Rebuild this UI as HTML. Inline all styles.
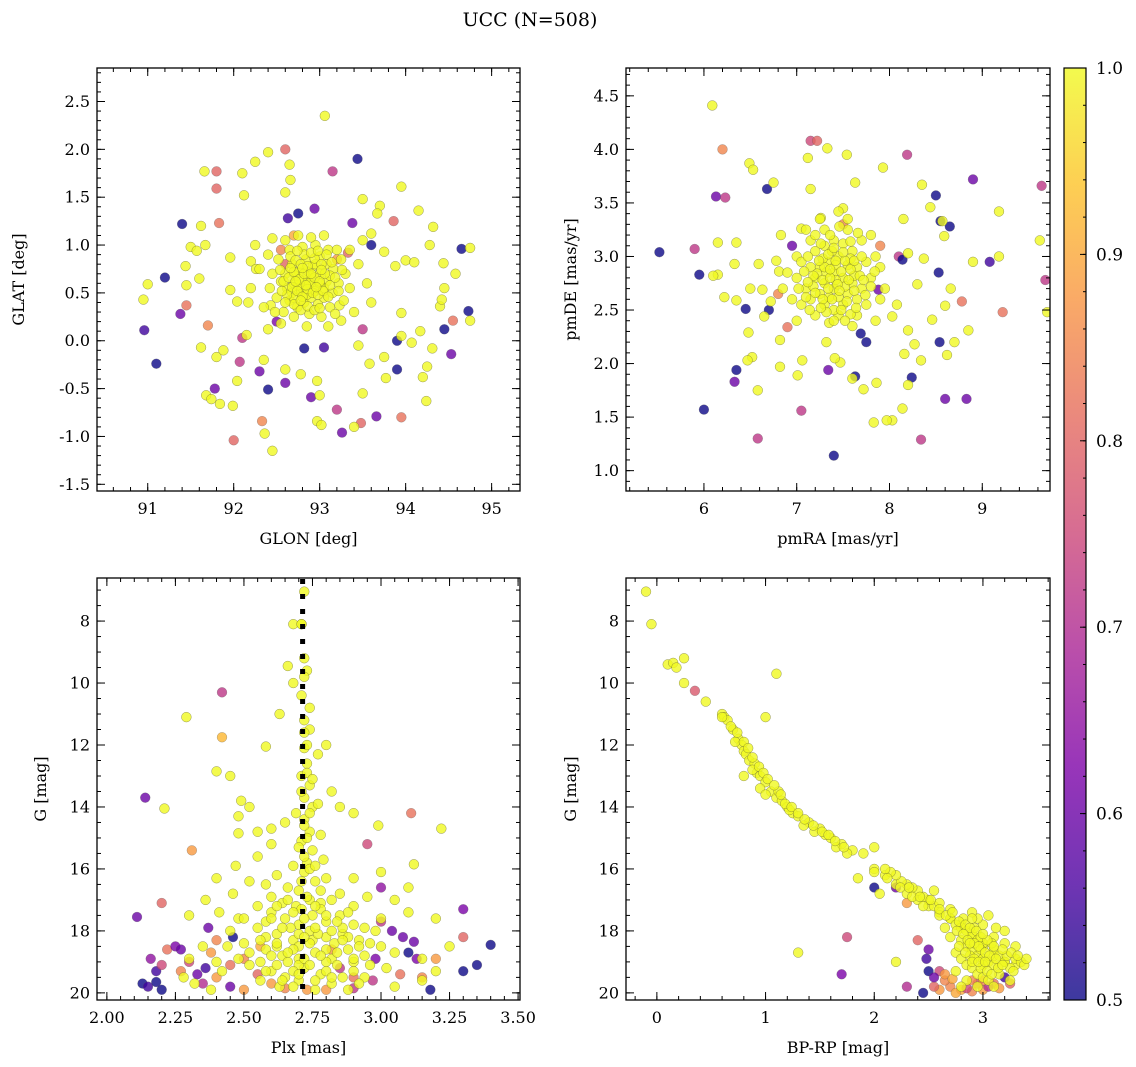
<!DOCTYPE html>
<html><head><meta charset="utf-8"><style>
html,body{margin:0;padding:0;background:#fff;}
svg{display:block;font-family:"DejaVu Serif","Liberation Serif",serif;}
</style></head><body>
<svg id="fig" width="1136" height="1067" viewBox="0 0 1136 1067" xmlns="http://www.w3.org/2000/svg">
<text x="530" y="26" font-size="19" text-anchor="middle">UCC (N=508)</text>
</svg>
<script>
// ---------- Panel 1: GLON vs GLAT ----------
const p1Colored = [[90.96,0.11,0.55],[91.1,-0.24,0.5],[91.2,0.66,0.5],[91.4,1.22,0.5],[91.38,0.28,0.6],[91.45,0.37,0.82],[91.7,0.16,0.85],[91.8,1.77,0.8],[91.8,1.59,0.8],[91.78,-0.5,0.6],[91.83,1.23,0.82],[92.0,-1.04,0.8],[92.1,0.03,0.72],[92.07,-0.22,0.72],[92.3,-0.32,0.6],[92.4,-0.51,0.5],[92.33,-0.84,0.85],[92.6,2.0,0.8],[92.63,1.28,0.55],[92.75,1.33,0.5],[92.94,1.38,0.6],[92.6,-0.44,0.6],[92.82,-0.08,0.5],[92.9,-0.59,0.6],[93.15,1.77,0.72],[93.44,1.9,0.5],[93.38,1.23,0.6],[93.33,0.92,0.8],[93.2,-0.72,0.72],[93.26,-0.96,0.6],[93.48,-0.86,0.8],[93.66,-0.79,0.6],[93.6,1.0,0.5],[93.9,0.0,0.5],[93.9,-0.3,0.5],[93.86,1.25,0.8],[93.95,-0.8,0.82],[94.45,0.12,0.5],[94.53,-0.14,0.6],[94.55,0.21,0.82],[94.65,0.96,0.5],[94.73,0.31,0.5],[93.05,-0.07,0.55],[93.5,0.12,0.72],[92.5,0.2,0.62],[92.55,0.95,0.85],[92.7,1.1,0.9],[93.2,0.85,0.88],[92.6,0.8,0.8]];
const p1Yellow = [[90.95,0.43],[91.0,0.59],[91.44,0.78],[91.45,0.58],[91.5,0.98],[91.57,0.94],[91.62,1.2],[91.6,0.65],[91.62,-0.07],[91.66,1.77],[91.68,-0.57],[91.74,-0.61],[91.84,-0.66],[91.99,-0.68],[92.04,-0.42],[91.96,0.53],[92.04,0.41],[91.96,0.87],[92.17,0.4],[92.12,1.52],[92.25,1.87],[92.1,1.75],[92.4,1.97],[92.45,1.07],[92.35,-0.2],[92.36,-0.97],[92.45,-1.15],[92.65,1.84],[92.66,1.68],[92.6,1.55],[93.06,2.35],[92.6,-0.3],[92.78,-0.35],[92.97,-0.42],[93.0,-0.57],[92.97,-0.84],[93.02,-0.88],[93.4,-0.9],[93.5,-0.55],[93.77,-0.39],[93.58,-0.24],[93.75,-0.17],[93.95,0.29],[94.17,0.1],[94.25,-0.27],[94.2,-0.38],[94.24,-0.63],[93.95,0.05],[94.31,-0.08],[94.07,-0.02],[94.0,0.84],[94.1,0.82],[94.28,1.0],[94.32,1.19],[94.15,1.36],[93.95,1.61],[93.7,1.41],[93.67,1.33],[93.88,0.78],[93.75,0.93],[94.44,0.81],[94.58,0.7],[94.45,0.55],[94.4,0.36],[94.75,0.21],[94.75,0.97],[94.42,0.43],[93.5,1.48],[93.6,1.12],[93.45,-0.05],[93.25,0.21],[93.23,0.37],[92.4,0.12],[92.43,0.37],[92.15,0.06],[91.88,-0.1],[91.8,-0.17],[92.2,0.83],[92.26,0.75],[91.67,1.0],
[92.62,0.55],[92.7,0.6],[92.78,0.5],[92.85,0.65],[92.92,0.58],[93.0,0.7],[93.08,0.62],[93.15,0.5],[92.65,0.42],[92.74,0.35],[92.82,0.4],[92.9,0.45],[92.98,0.38],[93.05,0.45],[93.12,0.35],[92.6,0.7],[92.68,0.8],[92.76,0.72],[92.84,0.85],[92.92,0.78],[93.0,0.88],[93.08,0.8],[93.16,0.75],[93.22,0.6],[92.55,0.62],[92.5,0.45],[92.58,0.3],[92.7,0.25],[92.88,0.28],[93.02,0.25],[93.18,0.28],[93.28,0.42],[93.3,0.7],[93.25,0.85],[93.1,0.95],[92.95,1.0],[92.8,0.98],[92.65,0.95],[92.52,0.85],[92.45,0.7],[92.48,0.3],[92.8,0.55],[92.95,0.52],[92.72,0.68],[93.05,0.55],[92.87,0.72],[93.12,0.68],[92.68,0.5],[93.2,0.95],[92.9,1.08],[92.75,1.1],[93.05,1.1],[92.6,1.05],[93.35,0.55],[93.35,0.95],[92.42,0.55],[92.4,0.9],[92.55,0.18],[92.85,0.15],[93.1,0.15],[93.4,0.3],[93.45,0.8],[92.35,0.35],[92.3,0.75],[93.5,1.05],[92.2,0.55],[92.25,1.0],[93.55,0.6],[93.6,0.4],[92.8,0.62],[92.9,0.68],[92.75,0.58],[92.85,0.48],[93.0,0.6],[92.7,0.45],[92.95,0.8]];
const p1CoreExtra = [[92.58,0.62],[92.64,0.66],[92.7,0.72],[92.76,0.64],[92.82,0.7],[92.88,0.6],[92.94,0.66],[93.0,0.62],[93.06,0.7],[93.12,0.58],[92.62,0.48],[92.68,0.56],[92.74,0.52],[92.8,0.46],[92.86,0.54],[92.92,0.5],[92.98,0.48],[93.04,0.52],[93.1,0.46],[92.66,0.88],[92.72,0.84],[92.78,0.8],[92.86,0.78],[92.94,0.86],[93.02,0.8],[93.08,0.9],[92.7,0.38],[92.78,0.32],[92.86,0.36],[92.94,0.32],[93.0,0.34],[92.6,0.4],[92.54,0.74],[92.56,0.52],[93.14,0.82],[93.18,0.66],[93.22,0.52],[93.26,0.74],[92.82,0.9],[92.9,0.92],[92.98,0.94],[92.74,0.94],[92.66,0.76],[92.84,0.58],[92.9,0.7],[92.8,0.76],[92.72,0.62],[93.02,0.74],[92.96,0.56],[92.78,0.42]];
const p1XTicks = [91,92,93,94,95];
const p1YTicks = [-1.5,-1.0,-0.5,0.0,0.5,1.0,1.5,2.0,2.5];

// ---------- Panel 2: pmRA vs pmDE ----------
const p2Colored = [[5.52,3.04,0.5],[5.95,2.83,0.5],[6.0,1.57,0.5],[5.9,3.07,0.72],[6.13,3.56,0.6],[6.23,3.55,0.72],[6.2,4.0,0.85],[6.33,1.83,0.6],[6.35,1.94,0.5],[6.45,2.51,0.5],[6.58,1.3,0.72],[6.68,3.63,0.5],[6.7,2.5,0.5],[6.9,2.34,0.82],[7.05,1.56,0.72],[7.15,4.08,0.75],[7.22,4.08,0.8],[7.34,1.94,0.6],[7.4,1.14,0.5],[7.63,1.88,0.5],[7.69,2.28,0.5],[7.75,2.2,0.5],[7.88,2.69,0.6],[8.1,3.0,0.72],[8.14,2.97,0.5],[8.19,3.95,0.72],[8.24,1.87,0.5],[8.34,1.29,0.72],[8.5,3.57,0.5],[8.53,2.85,0.5],[8.55,3.33,0.5],[8.65,3.28,0.5],[8.54,2.2,0.5],[8.6,1.67,0.6],[8.83,1.67,0.6],[8.78,2.58,0.82],[8.9,3.72,0.6],[9.08,2.95,0.55],[9.68,2.78,0.72],[9.64,3.66,0.72],[9.22,2.48,0.82],[6.95,3.1,0.6],[7.5,3.3,0.85],[6.8,2.65,0.85],[7.9,3.1,0.85]];
const p2Yellow = [[6.09,4.41],[6.49,3.87],[6.53,3.81],[6.75,3.69],[7.12,3.92],[7.33,4.01],[7.54,3.95],[7.63,3.69],[7.93,3.83],[8.35,3.67],[8.44,3.46],[8.57,3.33],[8.59,3.19],[9.18,3.42],[9.62,3.15],[9.7,2.48],[9.18,3.0],[8.9,2.95],[8.85,2.31],[8.66,2.7],[8.6,2.54],[8.46,2.41],[8.7,2.2],[8.62,2.08],[8.27,2.18],[8.34,2.03],[8.16,2.09],[8.2,1.8],[8.14,1.58],[8.03,1.47],[7.97,1.47],[7.83,1.45],[7.86,1.82],[7.47,2.01],[7.32,2.2],[7.41,2.05],[7.06,2.03],[7.01,1.89],[6.82,2.22],[6.82,1.97],[6.52,2.06],[6.47,2.03],[6.58,1.75],[6.48,2.29],[6.35,2.59],[6.22,2.62],[6.15,3.13],[6.15,2.83],[6.35,3.13],[6.33,2.93],[6.59,2.93],[6.63,2.69],[6.72,2.58],[6.78,2.96],[6.81,2.86],[6.5,2.7],[6.1,2.82],[6.65,2.44],[7.05,3.26],[6.83,3.2],[7.15,3.63],[7.26,3.36],[7.5,3.45],[8.15,3.35],[8.2,3.03],[8.37,2.98],[8.3,2.74],[8.03,2.44],[8.2,2.31],[8.08,2.55],[7.72,1.76],[7.6,1.86],
[7.2,2.8],[7.3,2.75],[7.4,2.85],[7.5,2.8],[7.6,2.75],[7.35,2.95],[7.45,3.0],[7.25,2.65],[7.55,2.65],[7.15,2.9],[7.65,2.9],[7.3,2.55],[7.5,2.55],[7.4,2.7],[7.2,3.05],[7.6,3.05],[7.1,2.7],[7.7,2.7],[7.0,2.8],[7.8,2.8],[7.05,2.55],[7.75,2.55],[7.4,3.15],[7.3,3.25],[7.55,3.25],[7.15,3.15],[7.7,3.15],[7.0,3.0],[7.85,3.0],[6.95,2.6],[7.9,2.6],[7.2,2.45],[7.45,2.45],[7.65,2.45],[7.35,2.38],[7.55,3.35],[7.25,3.35],[7.45,3.42],[7.9,2.9],[6.9,2.85],[7.8,3.2],[7.1,3.25],[7.6,2.35],[7.0,2.4],[7.85,2.4],[7.35,2.62],[7.55,2.92],[7.25,2.9],[7.45,2.62],[7.65,2.6],[7.15,2.6],[7.5,3.12],[7.3,3.1],[7.75,2.95],[7.05,2.95],[7.95,2.7],[6.85,2.7],[7.4,2.5],[7.62,2.82],[7.18,2.72],[7.42,2.78],[7.32,2.85],[7.52,2.72],[7.38,3.05],[7.28,2.98],[7.58,2.98]];
const p2CoreExtra = [[7.22,2.84],[7.28,2.78],[7.34,2.7],[7.42,2.92],[7.48,2.86],[7.56,2.78],[7.62,2.68],[7.36,2.8],[7.44,2.74],[7.52,2.96],[7.3,2.9],[7.24,2.96],[7.18,2.82],[7.12,2.76],[7.68,2.82],[7.58,2.88],[7.46,2.68],[7.38,2.6],[7.28,2.6],[7.2,2.66],[7.54,2.58],[7.62,2.96],[7.7,3.0],[7.34,3.02],[7.4,3.08],[7.26,3.12],[7.5,3.04],[7.58,3.14],[7.66,3.22],[7.2,3.2],[7.36,3.2],[7.46,3.28],[7.12,3.0],[7.08,2.86],[7.1,2.62],[7.02,2.7],[7.74,2.64],[7.8,2.72],[7.84,2.86],[7.72,2.78],[7.32,2.48],[7.48,2.5],[7.58,2.46],[7.26,2.52],[7.14,2.5],[7.4,2.4],[7.52,2.4],[7.64,2.52],[7.42,2.96],[7.36,2.88]];
const p2XTicks = [6,7,8,9];
const p2YTicks = [1.0,1.5,2.0,2.5,3.0,3.5,4.0,4.5];

// ---------- Panel 3: Plx vs G ----------
const p3Colored = [[2.14,13.7,0.6],[2.11,17.55,0.6],[2.2,17.1,0.8],[2.31,15.4,0.88],[2.42,10.3,0.72],[2.42,11.75,0.92],[2.13,19.7,0.5],[2.15,19.8,0.55],[2.18,19.65,0.5],[2.2,19.9,0.5],[2.18,19.3,0.55],[2.16,18.9,0.65],[2.2,19.1,0.75],[2.22,18.6,0.82],[2.25,18.5,0.62],[2.27,18.6,0.6],[2.3,19.0,0.75],[2.33,19.4,0.6],[2.36,19.2,0.55],[2.37,17.9,0.6],[2.38,18.7,0.88],[2.4,19.5,0.88],[2.45,19.1,0.82],[2.46,18.2,0.5],[2.45,19.8,0.6],[2.5,19.9,0.88],[2.55,19.4,0.8],[2.6,19.7,0.88],[2.95,15.2,0.75],[3.0,16.6,0.65],[3.0,17.7,0.72],[2.98,18.9,0.62],[2.97,19.6,0.72],[3.04,18.0,0.6],[3.11,14.2,0.82],[3.08,18.2,0.6],[3.1,18.7,0.5],[3.12,18.35,0.6],[3.13,18.9,0.62],[3.07,19.4,0.82],[3.18,19.9,0.5],[3.2,18.9,0.88],[3.3,17.3,0.62],[3.3,18.2,0.8],[3.3,19.3,0.5],[3.35,19.1,0.5],[3.4,18.45,0.5],[2.8,19.9,0.88],[2.73,19.9,0.88],[2.9,19.5,0.82],[2.85,19.2,0.72],[2.4,18.3,0.85],[2.35,19.7,0.7],[2.27,19.3,0.85],[2.5,18.9,0.85],[2.65,19.85,0.85],[2.9,19.85,0.72],[3.15,19.5,0.85],[2.82,18.6,0.88],[2.56,18.5,0.9]];
const p3Yellow = [[2.72,7.05],[2.71,8.1],[2.29,11.1],[2.66,9.45],[2.68,8.1],[2.63,11.0],[2.68,10.0],[2.58,12.05],[2.4,12.85],[2.45,13.0],[2.49,13.8],[2.48,14.3],[2.52,14.0],[2.21,14.05],[2.48,14.85],[2.55,14.8],[2.6,14.7],[2.65,14.5],[2.8,12.0],[2.82,13.5],[2.85,14.0],[2.9,14.2],[2.99,14.6],[3.22,14.7],[3.12,15.85],[3.1,16.6],[2.47,15.9],[2.55,15.6],[2.6,15.2],[2.4,16.3],[2.52,16.4],[2.46,16.8],[2.58,16.5],[2.62,16.2],[2.36,17.0],[2.41,17.4],[2.3,17.5],[2.48,17.6],[3.0,16.1],[2.9,16.3],[2.95,16.9],[3.05,17.0],[3.1,17.4],[3.2,17.6],[3.15,18.9],[3.25,18.5],[3.2,19.3],[3.15,19.6],[3.05,19.8],[2.3,18.9],[2.35,18.5],[2.28,19.5],[2.4,19.0],[2.38,19.9],[2.32,19.7],
[2.72,9.2],[2.73,9.6],[2.71,10.4],[2.72,11.2],[2.74,11.5],[2.72,12.1],[2.73,12.6],[2.71,13.0],[2.74,13.3],[2.72,13.7],[2.75,14.0],[2.72,14.4],[2.74,14.8],[2.71,15.1],[2.75,15.4],[2.73,15.8],[2.72,16.1],[2.76,16.4],[2.7,16.7],[2.74,17.0],[2.77,12.3],[2.77,13.9],[2.78,14.9],[2.69,14.2],[2.79,15.7],[2.8,16.3],[2.68,15.9],[2.66,16.6],[2.78,17.1],[2.82,17.0],[2.69,17.2],
[2.6,17.4],[2.65,17.6],[2.7,17.8],[2.75,17.5],[2.8,17.7],[2.85,17.5],[2.9,17.8],[2.55,17.9],[2.62,18.1],[2.68,18.3],[2.74,18.0],[2.8,18.2],[2.86,18.1],[2.92,18.3],[2.98,18.0],[2.5,18.4],[2.58,18.6],[2.64,18.8],[2.7,18.5],[2.76,18.7],[2.82,18.9],[2.88,18.6],[2.94,18.8],[3.0,18.5],[2.52,19.1],[2.6,19.3],[2.66,19.0],[2.72,19.2],[2.78,19.4],[2.84,19.1],[2.9,19.3],[2.96,19.1],[2.56,19.6],[2.63,19.8],[2.7,19.6],[2.76,19.9],[2.82,19.7],[2.88,19.9],[2.94,19.5],[2.45,18.0],[2.48,18.9],[3.02,19.2],[3.05,18.7],[2.6,16.9],[2.85,16.8],[2.9,17.2],[2.55,17.2],[2.65,19.5],[2.8,19.0],[2.7,18.9],[2.75,18.3],[2.67,17.9],[2.83,18.4],[2.58,18.2],[2.92,19.7],[3.0,17.6],[2.5,17.6],[2.44,18.5],[2.42,19.3],[2.64,17.1],[2.78,16.7],[2.86,17.9],[2.62,18.5],[2.77,18.1],[2.7,19.1]];
const p3CoreExtra = [[2.72,11.6],[2.73,12.9],[2.71,13.5],[2.74,14.2],[2.72,14.6],[2.73,15.0],[2.72,15.6],[2.74,16.0],[2.71,16.4],[2.73,16.9],[2.74,10.8],[2.72,9.8],[2.71,8.1],[2.73,12.0],[2.75,13.1],[2.7,15.3],[2.76,15.9],[2.71,17.3],[2.62,17.2],[2.68,17.4],[2.72,17.6],[2.78,17.3],[2.84,17.7],[2.88,17.4],[2.58,17.7],[2.64,17.9],[2.7,18.1],[2.76,17.9],[2.82,18.0],[2.88,18.2],[2.94,17.9],[2.56,18.3],[2.62,18.4],[2.68,18.6],[2.74,18.4],[2.8,18.6],[2.86,18.3],[2.92,18.5],[2.6,18.8],[2.66,18.7],[2.72,18.9],[2.78,18.8],[2.84,18.7],[2.9,19.0],[2.56,19.0],[2.62,19.1],[2.68,19.3],[2.74,19.1],[2.8,19.3],[2.86,19.5],[2.64,19.6],[2.7,19.4],[2.76,19.6],[2.82,19.5],[2.66,17.0],[2.76,17.2],[2.6,17.6],[2.72,18.2],[2.8,17.5],[2.9,18.9],[2.68,19.8],[2.58,19.3],[2.96,18.4],[2.52,18.7]];
const p3XTicks = [2.00,2.25,2.50,2.75,3.00,3.25,3.50];
const p3YTicks = [8,10,12,14,16,18,20];
const p3PlxMean = 2.714;

// ---------- Panel 4: BP-RP vs G ----------
const p4Colored = [[0.35,10.25,0.78],[2.6,19.9,0.88],[2.7,19.8,0.85],[2.8,19.9,0.9],[2.9,19.95,0.85],[3.0,19.9,0.88],[3.1,19.7,0.82],[2.65,19.6,0.85],[2.75,20.0,0.9],[2.55,19.8,0.8],[2.95,19.7,0.78],[2.85,19.85,0.75],[2.5,19.3,0.5],[2.45,20.0,0.5],[2.3,19.8,0.7],[2.5,18.6,0.6],[2.3,17.1,0.88],[2.4,18.3,0.8],[2.0,16.6,0.5],[1.75,18.2,0.75],[1.7,19.4,0.62],[2.6,19.3,0.75],[2.55,19.5,0.6],[2.9,19.6,0.85],[3.25,19.7,0.8],[2.2,16.6,0.6],[2.65,19.4,0.88],[3.05,19.8,0.7],[3.2,19.5,0.55],[3.0,19.6,0.85],[2.48,18.9,0.55],[2.72,19.55,0.9],[3.15,19.85,0.88]];
const p4Yellow = [[-0.1,7.05],[-0.05,8.1],[0.1,9.4],[0.15,9.35],[0.18,9.5],[0.25,9.2],[0.25,10.0],[0.45,10.6],[0.6,11.0],[0.62,11.1],[0.65,11.2],[0.7,11.5],[0.75,11.8],[0.78,12.0],[0.8,12.2],[0.82,12.3],[0.85,12.5],[0.9,12.6],[0.92,12.9],[0.95,13.0],[1.0,13.2],[1.05,13.5],[1.1,13.7],[1.15,13.8],[1.2,14.0],[1.25,14.2],[1.3,14.3],[1.4,14.5],[1.5,14.7],[1.6,15.0],[1.7,15.2],[1.8,15.4],[1.75,15.5],[1.9,15.5],[0.8,13.0],[0.95,13.4],[1.0,13.6],[0.72,11.9],[0.88,12.8],[1.12,13.5],[1.22,14.1],[1.35,14.6],[1.45,14.8],[1.55,14.9],[1.65,15.3],[1.0,11.1],[1.1,9.7],[1.3,18.7],[2.2,19.0],[2.0,15.3],[2.0,16.0],[2.1,16.2],[2.2,16.5],[2.3,16.8],[2.4,17.0],[2.5,17.2],[2.6,17.4],[2.7,17.6],[2.8,17.8],[2.9,18.2],[3.0,18.5],[3.1,18.8],[3.2,19.0],[3.3,19.1],[1.85,16.3],[2.05,16.8],
[2.7,17.6],[2.75,17.8],[2.8,17.9],[2.85,18.0],[2.9,18.1],[2.95,18.3],[3.0,18.4],[2.8,18.3],[2.85,18.5],[2.9,18.6],[2.95,18.8],[3.0,18.9],[3.05,19.0],[3.1,19.1],[2.75,18.7],[2.8,18.9],[2.85,19.1],[2.9,19.2],[2.95,19.4],[3.0,19.5],[3.05,19.6],[3.1,18.6],[3.15,18.8],[3.2,19.0],[3.25,19.2],[3.3,18.9],[3.35,19.0],[3.2,18.4],[3.1,18.2],[3.0,17.8],[2.95,17.6],[2.9,17.4],[3.05,17.5],[3.2,18.0],[3.3,18.5],[2.7,18.2],[2.65,17.9],[2.75,19.3],[2.85,19.6],[2.95,19.8],[3.15,19.4],[3.25,19.6],[3.1,19.8],[2.8,19.8],[3.0,19.1],[2.88,18.8],[2.98,18.6],[3.08,18.4],[2.92,17.9],[2.82,17.6],[3.12,17.9],[3.28,19.3],[3.38,19.1],[3.4,18.9],[2.6,17.5],[2.55,17.2],[2.5,17.0],[2.45,16.9],[2.4,16.7],[2.35,16.6],[2.3,16.5],[2.25,16.4],[2.2,16.2],[2.15,16.1],[2.1,16.0],[2.6,17.1],[2.7,17.3],[2.45,17.2],[2.55,16.7],[2.35,16.9]];
const p4CoreExtra = [[0.6,11.1],[0.68,11.4],[0.74,11.6],[0.8,11.9],[0.84,12.1],[0.88,12.4],[0.94,12.7],[0.98,12.9],[1.02,13.1],[1.08,13.3],[1.14,13.6],[1.18,13.9],[1.24,14.0],[1.3,14.2],[1.36,14.4],[1.44,14.6],[1.52,14.8],[1.58,14.9],[1.64,15.1],[1.72,15.3],[2.0,16.1],[2.12,16.3],[2.24,16.6],[2.32,16.6],[2.42,16.9],[2.52,17.0],[2.6,17.3],[2.66,17.5],[2.72,17.4],[2.78,17.7],[2.84,17.8],[2.88,17.9],[2.94,18.0],[2.98,18.2],[3.04,18.3],[2.76,18.0],[2.82,18.1],[2.86,18.3],[2.92,18.4],[2.96,18.5],[3.02,18.7],[3.06,18.8],[3.12,18.9],[2.78,18.5],[2.84,18.7],[2.92,18.9],[2.98,19.2],[3.04,19.3],[3.08,19.4],[3.14,19.2],[3.18,19.1],[3.22,18.8],[3.26,18.7],[3.32,18.8],[3.18,18.6],[2.9,19.0],[2.96,19.0],[3.02,19.0],[2.88,18.4],[2.9,17.6],[3.0,18.1],[3.1,18.5]];
const p4XTicks = [0,1,2,3];
const p4YTicks = [8,10,12,14,16,18,20];

const cbTicks = [0.5,0.6,0.7,0.8,0.9,1.0];

const NS = "http://www.w3.org/2000/svg";
const svg = document.getElementById('fig');
const plasma = ["#0d0887","#4c02a1","#7e03a8","#a92395","#cc4778","#e56b5d","#f89441","#fdc328","#f0f921"];
function hex(h){return [parseInt(h.substr(1,2),16),parseInt(h.substr(3,2),16),parseInt(h.substr(5,2),16)];}
function cmap(c){
  let t=Math.max(0,Math.min(1,(c-0.5)/0.5))*(plasma.length-1);
  let i=Math.min(plasma.length-2,Math.floor(t)), f=t-i;
  let a=hex(plasma[i]), b=hex(plasma[i+1]);
  return 'rgb('+a.map((v,k)=>Math.round(v+(b[k]-v)*f)).join(',')+')';
}
function el(tag, attrs, parent){
  const e=document.createElementNS(NS,tag);
  for(const k in attrs) e.setAttribute(k,attrs[k]);
  (parent||svg).appendChild(e); return e;
}
function fmt(v,d){return v.toFixed(d);}
const R=4.9;

function panel(name, box, xd, yd, invY, xt, yt, xdec, ydec, xminStep, yminStep, xlabel, ylabel, ylabOff, colored, yellow, extra){
  const g=el('g',{});
  
  
  const sx=v=>box.x+(v-xd[0])/(xd[1]-xd[0])*box.w;
  const sy=v=> invY ? box.y+(v-yd[0])/(yd[1]-yd[0])*box.h : box.y+box.h-(v-yd[0])/(yd[1]-yd[0])*box.h;
  const clipId=name+'-clip';
  const cp=el('clipPath',{id:clipId},g); el('rect',{x:box.x,y:box.y,width:box.w,height:box.h},cp);
  const pts=el('g',{'clip-path':'url(#'+clipId+')'},g);
  
  
  colored.forEach(p=>{
    const c=el('circle',{cx:sx(p[0]),cy:sy(p[1]),r:R,fill:cmap(p[2]),'fill-opacity':0.8,stroke:'#555','stroke-opacity':0.5,'stroke-width':0.5},pts);
    
    
  });
  yellow.concat(extra).forEach(p=>{
    const c=el('circle',{cx:sx(p[0]),cy:sy(p[1]),r:R,fill:cmap(1.0),'fill-opacity':0.8,stroke:'#6b6b30','stroke-opacity':0.7,'stroke-width':0.5},pts);
    
    
  });
  const tk=el('g',{stroke:'#000','stroke-width':1},g);
  const xmn=Math.ceil(xd[0]/xminStep-1e-6), xmx=Math.floor(xd[1]/xminStep+1e-6);
  for(let i=xmn;i<=xmx;i++){const X=sx(i*xminStep);
    el('line',{x1:X,y1:box.y+box.h,x2:X,y2:box.y+box.h-4},tk); el('line',{x1:X,y1:box.y,x2:X,y2:box.y+4},tk);}
  const lo=Math.min(yd[0],yd[1]), hi=Math.max(yd[0],yd[1]);
  const ymn=Math.ceil(lo/yminStep-1e-6), ymx=Math.floor(hi/yminStep+1e-6);
  for(let i=ymn;i<=ymx;i++){const Y=sy(i*yminStep);
    el('line',{x1:box.x,y1:Y,x2:box.x+4,y2:Y},tk); el('line',{x1:box.x+box.w,y1:Y,x2:box.x+box.w-4,y2:Y},tk);}
  xt.forEach(v=>{const X=sx(v);
    el('line',{x1:X,y1:box.y+box.h,x2:X,y2:box.y+box.h-8},tk); el('line',{x1:X,y1:box.y,x2:X,y2:box.y+8},tk);
    const t=el('text',{x:X,y:box.y+box.h+23,'font-size':16,'text-anchor':'middle'},g); t.textContent=fmt(v,xdec);
    
    });
  yt.forEach(v=>{const Y=sy(v);
    el('line',{x1:box.x,y1:Y,x2:box.x+8,y2:Y},tk); el('line',{x1:box.x+box.w,y1:Y,x2:box.x+box.w-8,y2:Y},tk);
    const t=el('text',{x:box.x-7,y:Y+5.5,'font-size':16,'text-anchor':'end'},g); t.textContent=fmt(v,ydec);
    
    });
  el('rect',{x:box.x,y:box.y,width:box.w,height:box.h,fill:'none',stroke:'#000','stroke-width':1.3},g);
  const xl=el('text',{x:box.x+box.w/2,y:box.y+box.h+53,'font-size':16,'text-anchor':'middle'},g); xl.textContent=xlabel;
  
  
  const yx=box.x-ylabOff, yy=box.y+box.h/2;
  const yl=el('text',{x:yx,y:yy,'font-size':16,'text-anchor':'middle',transform:'rotate(-90 '+yx+' '+yy+')'},g); yl.textContent=ylabel;
  
  
  return {sx,sy,g};
}

panel('glon-glat-panel',{x:97,y:68,w:423,h:423},[90.41,95.33],[-1.57,2.85],false,p1XTicks,p1YTicks,0,1,0.2,0.1,'GLON [deg]','GLAT [deg]',73,p1Colored,p1Yellow,p1CoreExtra);
panel('pm-panel',{x:626,y:68,w:424,h:423},[5.16,9.73],[0.81,4.76],false,p2XTicks,p2YTicks,0,1,0.2,0.1,'pmRA [mas/yr]','pmDE [mas/yr]',50,p2Colored,p2Yellow,p2CoreExtra);
const P3=panel('plx-g-panel',{x:97,y:578,w:423,h:422},[1.964,3.507],[6.61,20.23],true,p3XTicks,p3YTicks,2,0,0.05,0.5,'Plx [mas]','G [mag]',51,p3Colored,p3Yellow,p3CoreExtra);
panel('cmd-panel',{x:626,y:578,w:424,h:422},[-0.284,3.617],[6.61,20.23],true,p4XTicks,p4YTicks,0,0,0.2,0.5,'BP-RP [mag]','G [mag]',50,p4Colored,p4Yellow,p4CoreExtra);

const ml=el('line',{x1:P3.sx(p3PlxMean),y1:579,x2:P3.sx(p3PlxMean),y2:1000,stroke:'#000','stroke-width':5,'stroke-dasharray':'5 10'});



const defs=el('defs',{});
const lg=el('linearGradient',{id:'cbgrad',x1:0,y1:1,x2:0,y2:0},defs);
plasma.forEach((c,i)=>{el('stop',{offset:i/(plasma.length-1),'stop-color':c,'stop-opacity':0.8},lg);});
const cb={x:1064,y:68,w:22,h:932};
const cbg=el('g',{});


el('rect',{x:cb.x,y:cb.y,width:cb.w,height:cb.h,fill:'url(#cbgrad)',stroke:'#000','stroke-width':1.2},cbg);
const cy=v=>cb.y+cb.h-(v-0.5)/0.5*cb.h;
for(let i=25;i<=50;i++){const Y=cy(i*0.02); el('line',{x1:cb.x+cb.w,y1:Y,x2:cb.x+cb.w-3,y2:Y,stroke:'#000'},cbg);}
cbTicks.forEach(v=>{const Y=cy(v);
  el('line',{x1:cb.x+cb.w,y1:Y,x2:cb.x+cb.w-6,y2:Y,stroke:'#000'},cbg);
  const t=el('text',{x:cb.x+cb.w+10,y:Y+6,'font-size':17},cbg); t.textContent=v.toFixed(1);
  
  });
</script>
</body></html>
